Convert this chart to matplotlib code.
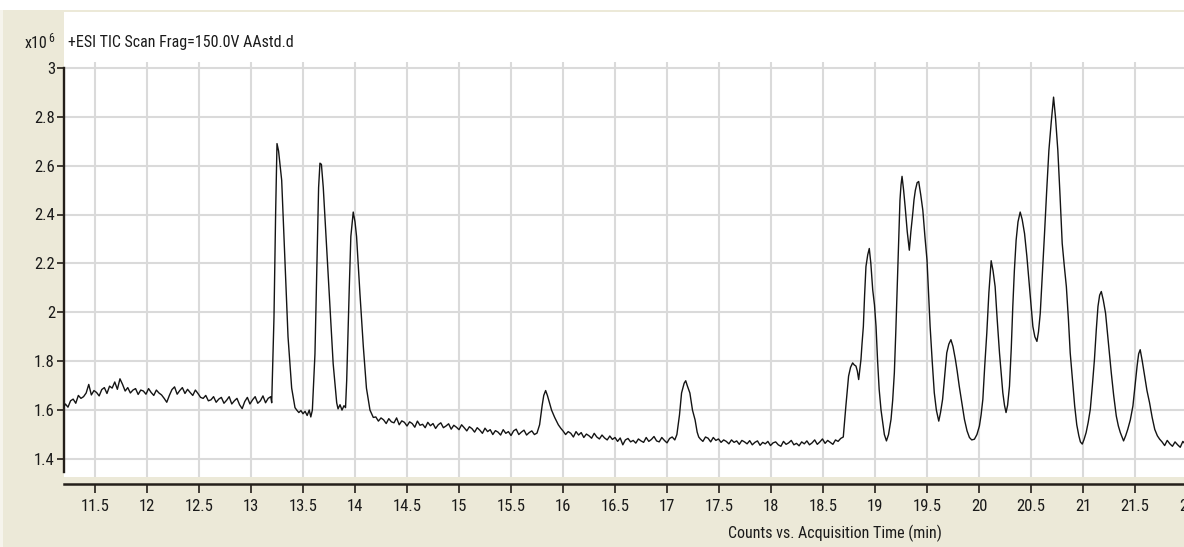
import numpy as np
import matplotlib
matplotlib.use("Agg")
import matplotlib.pyplot as plt
from matplotlib import font_manager as fm
from matplotlib.ticker import FixedLocator, FuncFormatter
from matplotlib.patches import Rectangle

# ---------------- data ----------------
title_text = "+ESI TIC Scan Frag=150.0V AAstd.d"
xlabel_text = "Counts vs. Acquisition Time (min)"
scale_text = "x10"
scale_exp = "6"

x_ticks = [11.5, 12, 12.5, 13, 13.5, 14, 14.5, 15, 15.5, 16, 16.5, 17, 17.5,
           18, 18.5, 19, 19.5, 20, 20.5, 21, 21.5, 22]
y_ticks = [1.4, 1.6, 1.8, 2.0, 2.2, 2.4, 2.6, 2.8, 3.0]

# baseline 11.19 .. 13.19 (regular sampling)
base1_range = (11.19, 13.19)
base1_vals = [1.605, 1.625, 1.612, 1.638, 1.645, 1.628, 1.66, 1.648, 1.655, 1.67,
              1.705, 1.662, 1.68, 1.672, 1.658, 1.684, 1.692, 1.668, 1.698, 1.69,
              1.715, 1.685, 1.728, 1.705, 1.678, 1.692, 1.67, 1.682, 1.688, 1.664,
              1.682, 1.678, 1.665, 1.688, 1.672, 1.66, 1.682, 1.67, 1.662, 1.648,
              1.632, 1.66, 1.684, 1.695, 1.665, 1.68, 1.692, 1.668, 1.685, 1.672,
              1.66, 1.682, 1.668, 1.652, 1.648, 1.66, 1.638, 1.642, 1.655, 1.632,
              1.645, 1.652, 1.628, 1.64, 1.655, 1.625, 1.638, 1.648, 1.622, 1.606,
              1.635, 1.652, 1.625, 1.642, 1.655, 1.628, 1.638, 1.658, 1.63, 1.648,
              1.655]

# first three peaks 13.2 .. 14.18
peaks1_t = [13.199, 13.221, 13.237, 13.25, 13.265, 13.295, 13.327, 13.356, 13.391,
            13.423, 13.44, 13.46, 13.48, 13.50, 13.52, 13.54, 13.56, 13.575, 13.59,
            13.615, 13.637, 13.65, 13.663, 13.677, 13.695, 13.727, 13.76, 13.79,
            13.824, 13.837, 13.856, 13.875, 13.894, 13.909,
            13.92, 13.945, 13.96, 13.983, 14.0, 14.015, 14.047, 14.08, 14.11,
            14.144, 14.176]
peaks1_v = [1.63, 1.98, 2.41, 2.69, 2.66, 2.54, 2.20, 1.90, 1.69,
            1.61, 1.60, 1.59, 1.598, 1.585, 1.595, 1.578, 1.60, 1.572, 1.60,
            1.83, 2.27, 2.51, 2.61, 2.605, 2.51, 2.27, 2.02, 1.79,
            1.63, 1.605, 1.622, 1.60, 1.618, 1.61,
            1.72, 2.10, 2.31, 2.41, 2.37, 2.31, 2.08, 1.86, 1.69,
            1.60, 1.57]

# baseline 14.2 .. 15.75
base2_range = (14.2, 15.75)
base2_vals = [1.572, 1.555, 1.568, 1.56, 1.545, 1.565, 1.552, 1.548, 1.568, 1.54,
              1.556, 1.55, 1.535, 1.552, 1.545, 1.53, 1.555, 1.538, 1.542, 1.528,
              1.55, 1.536, 1.545, 1.525, 1.54, 1.548, 1.528, 1.535, 1.544, 1.522,
              1.538, 1.53, 1.52, 1.54, 1.528, 1.515, 1.532, 1.524, 1.51, 1.528,
              1.518, 1.505, 1.526, 1.512, 1.52, 1.5, 1.516, 1.51, 1.498, 1.52,
              1.505, 1.512, 1.496, 1.515, 1.522, 1.5, 1.51, 1.518, 1.498, 1.508,
              1.515, 1.5, 1.506]

# small peak near 15.83
peak2_t = [15.775, 15.80, 15.815, 15.833, 15.85, 15.87, 15.89, 15.92, 15.955, 15.98]
peak2_v = [1.54, 1.62, 1.66, 1.68, 1.66, 1.63, 1.60, 1.57, 1.54, 1.525]

# baseline 16.0 .. 17.075
base3_range = (16.0, 17.075)
base3_vals = [1.515, 1.5, 1.512, 1.505, 1.49, 1.512, 1.498, 1.508, 1.488, 1.502,
              1.495, 1.485, 1.505, 1.49, 1.482, 1.498, 1.486, 1.478, 1.494, 1.48,
              1.488, 1.472, 1.486, 1.458, 1.478, 1.484, 1.47, 1.476, 1.465, 1.482,
              1.474, 1.468, 1.488, 1.472, 1.48, 1.492, 1.474, 1.47, 1.488, 1.476,
              1.466, 1.484, 1.49, 1.478]

# small peak near 17.18
peak3_t = [17.095, 17.12, 17.14, 17.165, 17.18, 17.195, 17.22, 17.245, 17.27, 17.29, 17.305]
peak3_v = [1.50, 1.58, 1.67, 1.71, 1.72, 1.70, 1.67, 1.60, 1.56, 1.51, 1.49]

# baseline 17.32 .. 18.695
base4_range = (17.32, 18.695)
base4_vals = [1.482, 1.472, 1.49, 1.485, 1.47, 1.488, 1.476, 1.482, 1.468, 1.478,
              1.472, 1.462, 1.478, 1.468, 1.474, 1.46, 1.476, 1.47, 1.462, 1.475,
              1.458, 1.468, 1.474, 1.456, 1.468, 1.462, 1.472, 1.455, 1.466, 1.47,
              1.458, 1.452, 1.472, 1.46, 1.466, 1.476, 1.458, 1.464, 1.454, 1.47,
              1.462, 1.474, 1.458, 1.466, 1.478, 1.46, 1.47, 1.482, 1.464, 1.476,
              1.468, 1.46, 1.478, 1.472, 1.484, 1.49]

# peak cluster 18.7 .. 21.74
peaks4_t = [18.72, 18.746, 18.765, 18.785, 18.80, 18.817, 18.83, 18.843, 18.855, 18.865,
            18.875, 18.888, 18.90, 18.913, 18.93, 18.945, 18.96, 18.978, 18.995, 19.01,
            19.025, 19.04, 19.058, 19.074, 19.09, 19.11, 19.13, 19.154, 19.17, 19.186,
            19.20, 19.218, 19.23, 19.24, 19.25, 19.26, 19.275, 19.29, 19.31, 19.33,
            19.345, 19.363, 19.375, 19.388, 19.405, 19.42, 19.44, 19.46, 19.48, 19.50,
            19.515, 19.53, 19.55, 19.57, 19.59, 19.613, 19.63, 19.65, 19.67, 19.69,
            19.71, 19.73, 19.75, 19.773, 19.79, 19.81, 19.835, 19.86, 19.885, 19.908,
            19.93, 19.956, 19.98, 20.004, 20.02, 20.037, 20.055, 20.075, 20.095, 20.117,
            20.135, 20.155, 20.175, 20.197, 20.213, 20.229, 20.245, 20.26, 20.275, 20.293,
            20.31, 20.325, 20.34, 20.357, 20.375, 20.396, 20.415, 20.438, 20.46, 20.48,
            20.50, 20.518, 20.537, 20.557, 20.572, 20.589, 20.61, 20.63, 20.65, 20.672,
            20.695, 20.717, 20.735, 20.758, 20.78, 20.80, 20.82, 20.84, 20.86, 20.877,
            20.90, 20.92, 20.94, 20.96, 20.975, 20.993, 21.01, 21.03, 21.05, 21.07,
            21.09, 21.11, 21.128, 21.144, 21.16, 21.176, 21.195, 21.217, 21.245, 21.272,
            21.295, 21.32, 21.34, 21.359, 21.375, 21.39, 21.41, 21.43, 21.455, 21.48,
            21.50, 21.52, 21.535, 21.55, 21.57, 21.593, 21.615, 21.64, 21.665, 21.69,
            21.715, 21.737]
peaks4_v = [1.617, 1.739, 1.775, 1.793, 1.785, 1.78, 1.76, 1.725, 1.77, 1.807,
            1.87, 1.942, 2.07, 2.187, 2.235, 2.261, 2.20, 2.092, 2.03, 1.942,
            1.80, 1.685, 1.60, 1.549, 1.50, 1.474, 1.50, 1.562, 1.64, 1.752,
            1.92, 2.159, 2.33, 2.458, 2.52, 2.556, 2.50, 2.431, 2.33, 2.254,
            2.33, 2.404, 2.46, 2.499, 2.53, 2.535, 2.48, 2.417, 2.31, 2.214,
            2.08, 1.942, 1.80, 1.671, 1.60, 1.555, 1.59, 1.644, 1.74, 1.834,
            1.87, 1.888, 1.86, 1.807, 1.76, 1.698, 1.63, 1.562, 1.515, 1.488,
            1.478, 1.481, 1.50, 1.535, 1.58, 1.644, 1.78, 1.915, 2.08, 2.211,
            2.17, 2.105, 1.97, 1.834, 1.75, 1.671, 1.62, 1.59, 1.62, 1.698,
            1.85, 2.024, 2.17, 2.295, 2.37, 2.41, 2.38, 2.322, 2.23, 2.132,
            2.03, 1.942, 1.90, 1.881, 1.92, 1.996, 2.16, 2.322, 2.49, 2.662,
            2.78, 2.88, 2.80, 2.662, 2.47, 2.282, 2.19, 2.105, 1.97, 1.834,
            1.72, 1.617, 1.54, 1.495, 1.47, 1.461, 1.48, 1.508, 1.55, 1.603,
            1.70, 1.807, 1.93, 2.024, 2.07, 2.085, 2.05, 1.996, 1.87, 1.752,
            1.66, 1.576, 1.535, 1.508, 1.49, 1.474, 1.495, 1.521, 1.56, 1.617,
            1.70, 1.78, 1.83, 1.847, 1.80, 1.739, 1.68, 1.63, 1.57, 1.521,
            1.495, 1.481]

# tail baseline 21.76 .. 22.01
base5_range = (21.76, 22.01)
base5_vals = [1.47, 1.455, 1.476, 1.462, 1.452, 1.47, 1.458, 1.448, 1.472, 1.46, 1.468]

# ---------------- assemble trace ----------------
def seg(rng, vals):
    return np.linspace(rng[0], rng[1], len(vals)), np.asarray(vals, float)

parts = [seg(base1_range, base1_vals),
         (np.array(peaks1_t), np.array(peaks1_v)),
         seg(base2_range, base2_vals),
         (np.array(peak2_t), np.array(peak2_v)),
         seg(base3_range, base3_vals),
         (np.array(peak3_t), np.array(peak3_v)),
         seg(base4_range, base4_vals),
         (np.array(peaks4_t), np.array(peaks4_v)),
         seg(base5_range, base5_vals)]
t_all = np.concatenate([p[0] for p in parts])
v_all = np.concatenate([p[1] for p in parts])

# ---------------- font ----------------
def pick_font():
    prefs = ["LiberationSansNarrow-Regular", "RobotoCondensed-Regular",
             "OpenSansCondensed", "DejaVuSansCondensed.ttf", "Roboto_Condensed"]
    files = [f.fname for f in fm.fontManager.ttflist]
    for key in prefs:
        for fn in files:
            base = fn.split("/")[-1].lower()
            if key.lower() in base and "bold" not in base \
                    and "italic" not in base and "oblique" not in base:
                return fm.FontProperties(fname=fn)
    return fm.FontProperties(family="Liberation Sans")

FP = pick_font()

def fp(size):
    p = FP.copy()
    p.set_size(size)
    return p

# ---------------- figure ----------------
W, H = 1184, 547
BEIGE = "#ECE9D8"
fig = plt.figure(figsize=(W / 100, H / 100), dpi=100, facecolor=BEIGE)

# white strip at very top of screenshot
fig.patches.append(Rectangle((0, 1 - 10 / H), 1, 10 / H, transform=fig.transFigure,
                             facecolor="white", edgecolor="none", zorder=0))
fig.patches.append(Rectangle((0, 0), 3 / W, 1 - 10 / H, transform=fig.transFigure,
                             facecolor="#F6F4EC", edgecolor="none", zorder=0))

# pixel mapping of the reference
px_per_min = 104.0
x0_px, x0_val = 95.0, 11.5
py_per_unit = 48.9 / 0.2
y0_px, y0_val = 459.0, 1.4

ax_left_px, ax_right_px = 64, 1240
ax_top_px, ax_bot_px = 12, 477

def px2t(x):
    return x0_val + (x - x0_px) / px_per_min

def py2v(y):
    return y0_val + (y0_px - y) / py_per_unit

ax = fig.add_axes([ax_left_px / W, 1 - ax_bot_px / H,
                   (ax_right_px - ax_left_px) / W, (ax_bot_px - ax_top_px) / H])
ax.set_facecolor("white")
ax.set_xlim(px2t(ax_left_px), px2t(ax_right_px))
ax.set_ylim(py2v(ax_bot_px), py2v(ax_top_px))

GRID = "#DADADA"
for yv in y_ticks:
    ax.axhline(yv, color=GRID, lw=1.5, zorder=1)
ax.vlines(x_ticks, py2v(ax_bot_px), py2v(62), color=GRID, lw=1.5, zorder=1)

ax.plot(t_all, v_all, color="#141414", lw=1.0, zorder=3)

# spines
for s in ("top", "right"):
    ax.spines[s].set_visible(False)
ax.spines["left"].set_color("#241f1a")
ax.spines["left"].set_linewidth(1.7)
ax.spines["left"].set_bounds(py2v(472), max(y_ticks))
ax.spines["bottom"].set_color("#241f1a")
ax.spines["bottom"].set_linewidth(1.8)
ax.spines["bottom"].set_position(("outward", 5.2))

ax.xaxis.set_major_locator(FixedLocator(x_ticks))
ax.yaxis.set_major_locator(FixedLocator(y_ticks))
ax.xaxis.set_major_formatter(FuncFormatter(lambda v, p: "%g" % v))
ax.yaxis.set_major_formatter(FuncFormatter(lambda v, p: "%g" % round(v, 2)))
ax.tick_params(axis="x", direction="out", length=6.5, width=1.2, color="#241f1a",
               pad=4, labelcolor="#1a1a1a")
ax.tick_params(axis="y", direction="out", length=5, width=1.2, color="#241f1a",
               pad=1.5, labelcolor="#1a1a1a")
for lab in ax.get_xticklabels() + ax.get_yticklabels():
    lab.set_fontproperties(fp(12))

# texts
fig.text(68 / W, 1 - 42 / H, title_text, fontproperties=fp(11.5), ha="left",
         va="center", color="#1a1a1a")
fig.text(47 / W, 1 - 43 / H, scale_text, fontproperties=fp(11.5), ha="right",
         va="center", color="#1a1a1a")
fig.text(48 / W, 1 - 38 / H, scale_exp, fontproperties=fp(8.5), ha="left",
         va="center", color="#1a1a1a")
fig.text(835 / W, 1 - 533 / H, xlabel_text, fontproperties=fp(11.5), ha="center",
         va="center", color="#1a1a1a")

fig.savefig("out.png", dpi=100, facecolor=BEIGE)
